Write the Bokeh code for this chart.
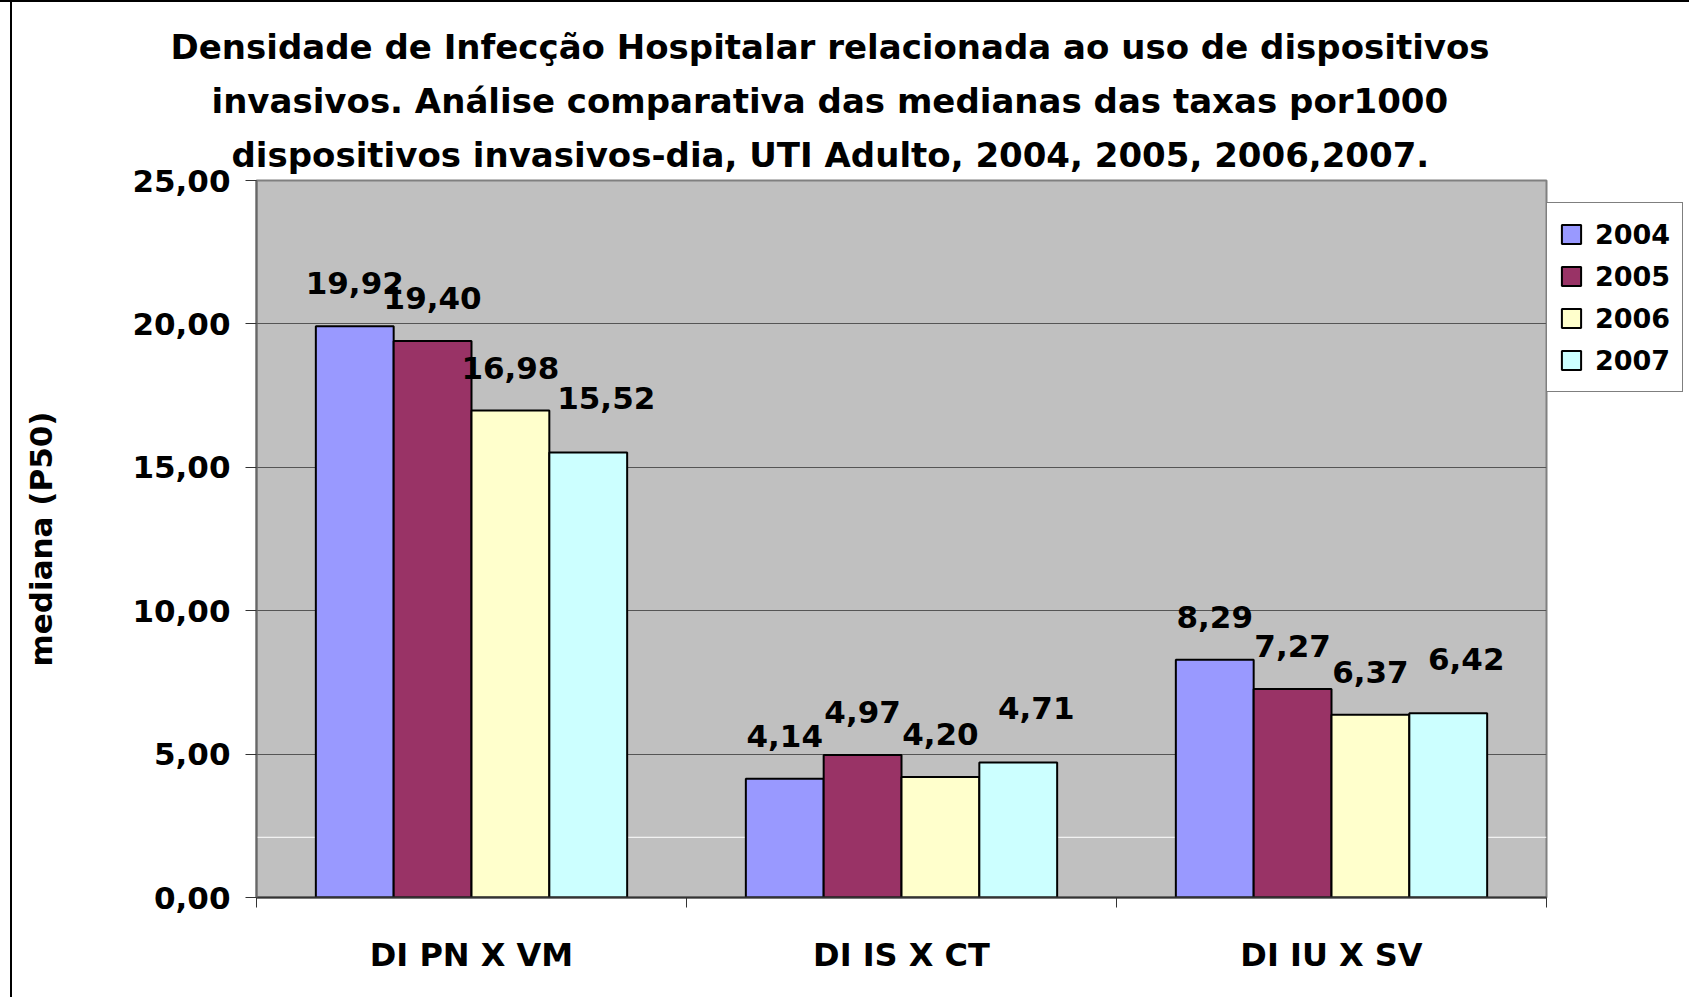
from bokeh.plotting import figure
from bokeh.models import (Range1d, FixedTicker, Span, Legend, LegendItem,
                          ColumnDataSource, Title)
from bokeh.core.properties import value
from bokeh.embed import file_html
from bokeh.resources import INLINE

# ---------------- data ----------------
categories = ["DI PN X VM", "DI IS X CT", "DI IU X SV"]
years = ["2004", "2005", "2006", "2007"]
v2004 = [19.92, 4.14, 8.29]
v2005 = [19.40, 4.97, 7.27]
v2006 = [16.98, 4.20, 6.37]
v2007 = [15.52, 4.71, 6.42]
series = [v2004, v2005, v2006, v2007]
y_ticks = [0, 5, 10, 15, 20, 25]
y_tick_labels = ["0,00", "5,00", "10,00", "15,00", "20,00", "25,00"]
title_lines = [
    "Densidade de Infecção Hospitalar relacionada ao uso de dispositivos",
    "invasivos. Análise comparativa das medianas das taxas por1000",
    "dispositivos invasivos-dia, UTI Adulto, 2004, 2005, 2006,2007.",
]
y_label = "mediana (P50)"

# ---------------- style ----------------
colors = ["#9999FF", "#993366", "#FFFFCC", "#CCFFFF"]
FONT = "DejaVu Sans"
offsets = [-0.2715, -0.0905, 0.0905, 0.2715]
bar_w = 0.181
label_dx = [0, 0, 0, 18]
label_dy = [-43, -43, -43, -54]
title_offsets = [-86, -45, -25]   # left offset of each title line (px from frame left)

p = figure(frame_width=1290, frame_height=717,
           min_border_left=256, min_border_right=143,
           min_border_top=180, min_border_bottom=100,
           x_range=Range1d(0, len(categories)), y_range=Range1d(0, 25),
           output_backend="svg", toolbar_location=None, tools="")
p.title.visible = False
p.background_fill_color = "#C0C0C0"
p.border_fill_color = "white"
p.border_fill_alpha = 0
p.outline_line_color = "#808080"
p.outline_line_width = 2
p.styles = {
    "background-color": "white",
    "background-image": ("linear-gradient(to right, transparent 10px, #000 10px, "
                         "#000 12px, transparent 12px), "
                         "linear-gradient(to bottom, #000 0px, #000 2px, transparent 2px)"),
}

# grid
p.xgrid.visible = False
p.ygrid.ticker = FixedTicker(ticks=y_ticks[1:-1])
p.ygrid.grid_line_color = "#555555"
p.ygrid.grid_line_width = 1
p.add_layout(Span(location=2.1, dimension="width", line_color="white",
                  line_width=1, level="underlay"))

# y axis
p.yaxis.ticker = FixedTicker(ticks=y_ticks)
p.yaxis.major_label_overrides = dict(zip(y_ticks, y_tick_labels))
p.yaxis.major_tick_out = 11
p.yaxis.major_tick_in = 0
p.yaxis.minor_tick_line_color = None
p.yaxis.axis_line_color = "#666666"
p.yaxis.axis_line_width = 2
p.yaxis.major_tick_line_color = "#333333"
p.yaxis.major_tick_line_width = 1
p.yaxis.major_label_standoff = 15
p.yaxis.major_label_text_font = FONT
p.yaxis.major_label_text_font_style = "bold"
p.yaxis.major_label_text_font_size = "31px"
p.yaxis.major_label_text_color = "black"
p.yaxis.axis_label = y_label
p.yaxis.axis_label_standoff = 70
p.yaxis.axis_label_text_font = FONT
p.yaxis.axis_label_text_font_style = "bold"
p.yaxis.axis_label_text_font_size = "31px"
p.yaxis.axis_label_text_color = "black"

# x axis
centers = [i + 0.5 for i in range(len(categories))]
bounds = [i for i in range(len(categories) + 1)]
p.xaxis.ticker = FixedTicker(ticks=centers, minor_ticks=bounds)
p.xaxis.major_label_overrides = dict(zip(centers, categories))
p.xaxis.major_tick_out = 0
p.xaxis.major_tick_in = 0
p.xaxis.major_tick_line_color = None
p.xaxis.minor_tick_out = 10
p.xaxis.minor_tick_in = 0
p.xaxis.minor_tick_line_color = "#333333"
p.xaxis.axis_line_color = "#333333"
p.xaxis.axis_line_width = 2
p.xaxis.major_label_standoff = 28
p.xaxis.major_label_text_font = FONT
p.xaxis.major_label_text_font_style = "bold"
p.xaxis.major_label_text_font_size = "32px"
p.xaxis.major_label_text_color = "black"

# bars + labels
items = []
for k, (yr, vals) in enumerate(zip(years, series)):
    xs = [i + 0.5 + offsets[k] for i in range(len(categories))]
    src = ColumnDataSource(dict(x=xs, top=vals,
                                txt=[f"{v:.2f}".replace(".", ",") for v in vals]))
    r = p.vbar(x="x", top="top", bottom=0, width=bar_w, source=src,
               fill_color=colors[k], line_color="black", line_width=2)
    p.text(x="x", y="top", text="txt", source=src,
           text_font=value(FONT), text_font_style="bold", text_font_size="31px",
           text_color="black", text_align="center", text_baseline="alphabetic",
           x_offset=label_dx[k], y_offset=label_dy[k])
    items.append(LegendItem(label=yr, renderers=[r]))

legend = Legend(items=items, location=(0, 505),
                label_text_font=FONT, label_text_font_style="bold",
                label_text_font_size="27px", label_text_color="black",
                glyph_width=24, glyph_height=24, label_height=38,
                label_standoff=12, spacing=4, padding=12, margin=0,
                background_fill_color="white", background_fill_alpha=1,
                border_line_color="black", border_line_width=1)
p.add_layout(legend, "right")

# title: three lines, nearest to the frame added first
for line, off in reversed(list(zip(title_lines, title_offsets))):
    p.add_layout(Title(text=line, align="left", offset=off, standoff=12,
                       text_font=FONT, text_font_style="bold",
                       text_font_size="34px", text_color="black"), "above")

open("out.html", "w").write(file_html(p, INLINE))
